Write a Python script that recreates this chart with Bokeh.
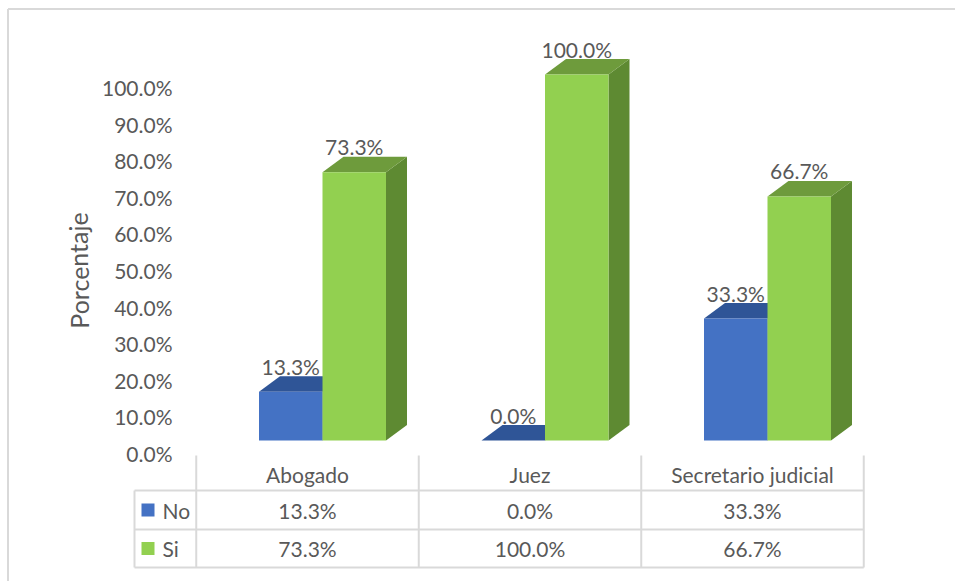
from bokeh.plotting import figure
from bokeh.models import Range1d
from bokeh.core.properties import value
from bokeh.embed import file_html
from bokeh.resources import INLINE

# ---- data ----
categories = ["Abogado", "Juez", "Secretario judicial"]
series = ["No", "Si"]
no_vals = [13.3, 0.0, 33.3]
si_vals = [73.3, 100.0, 66.7]
y_ticks = [0, 10, 20, 30, 40, 50, 60, 70, 80, 90, 100]
y_label = "Porcentaje"

# ---- layout constants (pixels) ----
W, H = 955, 581
X_ORIGIN, X_STEP = 322.0, 222.5   # pixel of category 0 pair centre, pixels per category
Y_ZERO, Y_UNIT = 440.0, 3.66       # pixel of 0 %, pixels per 1 %

def xd(px):
    return (px - X_ORIGIN) / X_STEP

def yd(py):
    return (Y_ZERO - py) / Y_UNIT

BW = 63.5 / X_STEP       # bar width
DX = 21.0 / X_STEP       # depth in x
DY = 15.5 / Y_UNIT       # depth in y
FONT = value("Lato")
TXT = "#595959"
GRID = "#d9d9d9"
FS = "21px"

p = figure(width=W, height=H, x_range=Range1d(xd(0), xd(W)), y_range=Range1d(yd(H), yd(0)),
           output_backend="svg", toolbar_location=None,
           x_axis_location=None, y_axis_location=None, min_border=0)
p.grid.visible = False
p.outline_line_color = None
p.background_fill_color = "white"
p.border_fill_color = "white"

# outer chart border
p.segment(x0=[xd(7.5), xd(7.5)], y0=[yd(8.5), yd(8.5)], x1=[xd(W + 5), xd(7.5)], y1=[yd(8.5), yd(H + 5)],
          line_color=GRID, line_width=2)

# ---- 3D bars ----
styles = [
    (no_vals, -1, "#4472C4", "#2F5597", "#2B4F8C"),
    (si_vals, 0, "#92D050", "#6E9B3C", "#5E8A32"),
]
label_x, label_y, label_t = [], [], []
for vals, shift, front, top, side in styles:
    lefts = [i + shift * BW for i in range(len(categories))]
    side_xs = [[l + BW, l + BW, l + BW + DX, l + BW + DX] for l in lefts]
    side_ys = [[0, v, v + DY, DY] for v in vals]
    top_xs = [[l, l + BW, l + BW + DX, l + DX] for l in lefts]
    top_ys = [[v, v, v + DY, v + DY] for v in vals]
    p.patches(xs=side_xs, ys=side_ys, fill_color=side, line_color=None)
    p.patches(xs=top_xs, ys=top_ys, fill_color=top, line_color=None)
    p.quad(left=lefts, right=[l + BW for l in lefts], bottom=[0] * len(vals), top=vals,
           fill_color=front, line_color=None)
    label_x += [l + BW / 2 for l in lefts]
    label_y += [v + DY - 2.5 / Y_UNIT for v in vals]
    label_t += [f"{v:.1f}%" for v in vals]

# value labels on top of everything
p.text(x=label_x, y=label_y, text=label_t, text_align="center", text_baseline="bottom",
       text_font=FONT, text_font_size=FS, text_color=TXT)

# ---- y tick labels ----
TICK_SHIFT = 13.0 / Y_UNIT
p.text(x=[xd(172)] * len(y_ticks), y=[t - TICK_SHIFT for t in y_ticks],
       text=[f"{t:.1f}%" for t in y_ticks], text_align="right", text_baseline="middle",
       text_font=FONT, text_font_size=FS, text_color=TXT)

# axis title
p.text(x=[xd(78)], y=[yd(270)], text=[y_label], angle=1.5708, text_align="center",
       text_baseline="middle", text_font=FONT, text_font_size="25px", text_color=TXT)

# ---- data table ----
col_off = (307 - X_ORIGIN) / X_STEP
col_centers = [i + col_off for i in range(len(categories))]
col_edges = [c - 0.5 for c in col_centers] + [col_centers[-1] + 0.5]
row_top, row_head, row_no, row_si = 455, 490, 529, 567
left_edge = 134

# vertical lines
vx = [xd(left_edge)] + col_edges
vy0 = [yd(row_head)] + [yd(row_top)] * len(col_edges)
p.segment(x0=vx, y0=vy0, x1=vx, y1=[yd(row_si)] * len(vx), line_color=GRID, line_width=2)
# horizontal lines
hy = [yd(row_head), yd(row_no), yd(row_si)]
p.segment(x0=[xd(left_edge)] * 3, y0=hy, x1=[col_edges[-1]] * 3, y1=hy, line_color=GRID, line_width=2)

# header
p.text(x=col_centers, y=[yd(474)] * len(categories), text=categories, text_align="center",
       text_baseline="middle", text_font=FONT, text_font_size=FS, text_color=TXT)

# rows
row_centers = [yd(509.5), yd(548)]
for r, (name, vals, color) in enumerate([("No", no_vals, "#4472C4"), ("Si", si_vals, "#92D050")]):
    yc = row_centers[r]
    p.rect(x=[xd(147.5)], y=[yc], width=13 / X_STEP, height=13 / Y_UNIT, fill_color=color, line_color=None)
    p.text(x=[xd(162)], y=[yc], text=[name], text_align="left", text_baseline="middle",
           text_font=FONT, text_font_size=FS, text_color=TXT)
    p.text(x=col_centers, y=[yc] * len(vals), text=[f"{v:.1f}%" for v in vals], text_align="center",
           text_baseline="middle", text_font=FONT, text_font_size=FS, text_color=TXT)

open("out.html", "w").write(file_html(p, INLINE))
